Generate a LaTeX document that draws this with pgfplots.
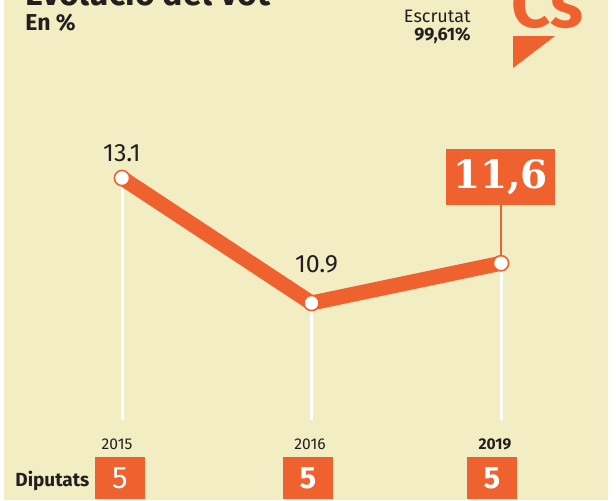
\documentclass[border=0pt]{standalone}
\usepackage{fontspec}
\setmainfont{Fira Sans}
\newfontfamily\serifb{DejaVu Serif}
\usepackage{pgfplots}
\pgfplotsset{compat=1.18}

\definecolor{bg}{RGB}{243,237,196}
\definecolor{csorange}{RGB}{240,97,48}
\definecolor{txt}{RGB}{35,31,32}

\begin{document}
\begin{tikzpicture}
\useasboundingbox (0,0) rectangle (308pt,250pt);
% background, in pixel units of the reference
\begin{scope}[x=0.5pt,y=-0.5pt,yshift=250pt]
  \fill[white] (0,0) rectangle (616,500);
  \fill[bg] (4,0) rectangle (608,500);
\end{scope}

\begin{axis}[
    at={(0,0)}, anchor=south west,
    scale only axis,
    width=308pt, height=250pt,
    xmin=-0.6438, xmax=2.6069,
    ymin=7.432, ymax=16.234,
    axis lines=none,
    xtick=\empty, ytick=\empty,
    clip=false,
    ]
% white drop lines
\addplot[white, line width=1.5pt] coordinates {(0,13.1) (0,8.84)};
\addplot[white, line width=1.5pt] coordinates {(1,10.9) (1,8.84)};
\addplot[white, line width=1.5pt] coordinates {(2,11.6) (2,8.84)};
% connector to the 2019 label box
\addplot[csorange, line width=0.9pt] coordinates {(2,11.6) (2,12.63)};
% vote share
\addplot[csorange, line width=7.5pt, line join=round, line cap=round]
    coordinates {(0,13.1) (1,10.9) (2,11.6)};
\addplot[only marks, mark=*, mark size=3.8pt,
    mark options={fill=white, draw=csorange, line width=0.8pt}]
    coordinates {(0,13.1) (1,10.9) (2,11.6)};

\node[font=\fontsize{12.5}{12.5}\selectfont, text=txt] at (axis cs:0,13.1) [yshift=12.5pt] {13.1};
\node[font=\fontsize{12.5}{12.5}\selectfont, text=txt] at (axis cs:1,10.9) [xshift=2.5pt, yshift=19.5pt] {10.9};
\end{axis}

\begin{scope}[x=0.5pt,y=-0.5pt,yshift=250pt]
  % title, cut off at the top edge
  \node[anchor=base west, font=\fontsize{17}{17}\selectfont\bfseries, text=txt, inner sep=0pt]
    at (25,5) {Evolució del vot};
  \node[anchor=west, font=\fontsize{11.5}{11.5}\selectfont\bfseries, text=txt, inner sep=0pt]
    at (25,23) {En \%};
  \node[anchor=east, font=\fontsize{9}{9}\selectfont, text=txt, inner sep=0pt]
    at (471,16) {Escrutat};
  \node[anchor=east, font=\fontsize{9}{9}\selectfont\bfseries, text=txt, inner sep=0pt]
    at (471,36) {99,61\%};
  % Cs logo
  \node[anchor=base west, font=\fontsize{34}{34}\selectfont\bfseries, text=csorange, inner sep=0pt]
    at (511,27) {Cs};
  \fill[csorange] (513,36) -- (555,36) -- (513,68) -- cycle;
  % 2019 value box
  \node[fill=csorange, minimum width=54.5pt, minimum height=28pt, inner sep=0pt,
        text=white, font=\serifb\fontsize{19.5}{19.5}\selectfont\bfseries]
    at (500.5,177) {11,6};
  % years
  \node[font=\fontsize{7.8}{7.8}\selectfont, text=txt] at (117,444) {2015};
  \node[font=\fontsize{7.8}{7.8}\selectfont, text=txt] at (310,444) {2016};
  \node[font=\fontsize{7.8}{7.8}\selectfont\bfseries, text=txt] at (495,444) {2019};
  % seats
  \node[anchor=west, font=\fontsize{9.5}{9.5}\selectfont\bfseries, text=txt, inner sep=0pt]
    at (15,481) {Diputats};
  \node[fill=csorange, minimum width=25pt, minimum height=21pt, inner sep=0pt,
        text=white, font=\fontsize{15.5}{15.5}\selectfont] at (120,478) {5};
  \node[fill=csorange, minimum width=25pt, minimum height=21pt, inner sep=0pt,
        text=white, font=\fontsize{15.5}{15.5}\selectfont\bfseries] at (308,478) {5};
  \node[fill=csorange, minimum width=25pt, minimum height=21pt, inner sep=0pt,
        text=white, font=\fontsize{15.5}{15.5}\selectfont\bfseries] at (492,478) {5};
\end{scope}
\end{tikzpicture}
\end{document}
